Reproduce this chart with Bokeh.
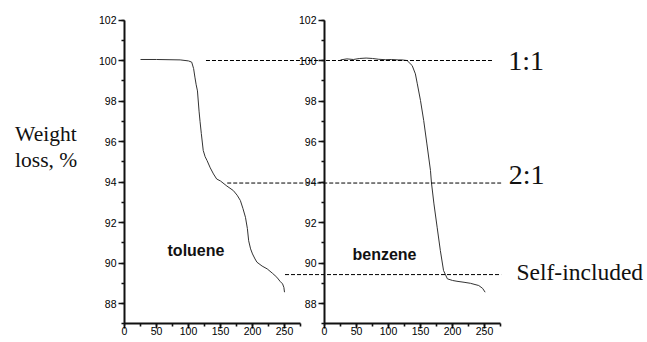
from bokeh.plotting import figure
from bokeh.models import (Range1d, LinearAxis, SingleIntervalTicker, Label,
                          ColumnDataSource)
from bokeh.embed import file_html
from bokeh.resources import INLINE

# ---------------- data ----------------
toluene_temp = [25, 50, 87, 100, 105, 108, 110, 112, 114, 116.5, 118, 120, 123,
                126, 129, 134, 139, 144, 150, 160, 170, 176, 181, 185, 189, 192,
                194, 197, 200, 204, 207, 215, 223, 231, 238, 243, 247, 249, 250]
toluene_weight = [100.05, 100.05, 100.03, 99.98, 99.92, 99.6, 99.18, 98.8, 98.5,
                  97.5, 97.0, 96.4, 95.56, 95.25, 95.06, 94.7, 94.4, 94.15, 94.05,
                  93.8, 93.58, 93.35, 93.09, 92.7, 92.26, 91.7, 91.1, 90.7, 90.45,
                  90.2, 90.04, 89.85, 89.71, 89.5, 89.3, 89.1, 88.97, 88.8, 88.56]

benzene_temp = [25, 35, 45, 55, 65, 75, 85, 95, 105, 115, 121, 129, 137, 142, 145,
                150, 155, 160, 165.6, 167, 171, 176, 181, 186, 192, 200, 207, 218,
                228, 241, 247, 251]
benzene_weight = [100.03, 100.08, 100.05, 100.1, 100.12, 100.1, 100.06, 100.04,
                  100.05, 100.03, 100.03, 100.0, 99.75, 99.34, 98.85, 98.02, 97.04,
                  95.88, 94.57, 94.0, 92.92, 91.77, 90.62, 89.63, 89.22, 89.14,
                  89.1, 89.05, 89.0, 88.89, 88.75, 88.56]

level_names = ["1:1", "2:1", "Self-included"]
level_values = [100.0, 93.95, 89.43]
level_start_toluene = [127.3, 160.5, 250.8]   # dashed line starts (toluene axis)
level_end_benzene = [262, 276, 276]           # dashed line ends (benzene axis)

y_ticks_interval = 2
x_ticks_interval = 50
y_min, y_max = 87, 102
x_axis_max = 275

# ---------------- layout ----------------
W, H = 647, 342
TOL_AXIS_PX = 124      # pixel column of the toluene y axis
BENZ_AXIS_PX = 324     # pixel column of the benzene y axis
X_AXIS_PY = 323.3      # pixel row of the x axes (y = 87)
TOP_PY = 19.5          # pixel row of y = 102
KX = 0.64
KY = (X_AXIS_PY - TOP_PY) / (y_max - y_min)

tol_range = Range1d(-TOL_AXIS_PX / KX, (W - TOL_AXIS_PX) / KX)
benz_range = Range1d(-BENZ_AXIS_PX / KX, (W - BENZ_AXIS_PX) / KX)
y_range = Range1d(y_min - (H - X_AXIS_PY) / KY, y_max + TOP_PY / KY)

p = figure(width=W, height=H, output_backend="svg", toolbar_location=None,
           x_range=tol_range, y_range=y_range,
           x_axis_location=None, y_axis_location=None,
           min_border_left=0, min_border_right=0,
           min_border_top=0, min_border_bottom=0)
p.extra_x_ranges = {"benz": benz_range}
p.outline_line_color = None
p.xgrid.visible = False
p.ygrid.visible = False
p.background_fill_color = "white"
p.border_fill_color = "white"


def style_axis(ax, is_y):
    ax.axis_line_width = 2
    ax.axis_line_color = "#111"
    ax.major_tick_line_width = 1.6
    ax.minor_tick_line_width = 1.6
    ax.major_tick_line_color = "#111"
    ax.minor_tick_line_color = "#111"
    ax.major_tick_in = 0
    ax.minor_tick_in = 0
    ax.major_label_text_font = "Liberation Sans"
    ax.major_label_text_font_size = "10.5px"
    ax.major_label_text_color = "#000"
    if is_y:
        ax.major_tick_out = 6
        ax.minor_tick_out = 3
        ax.major_label_standoff = 2
    else:
        ax.major_tick_out = 5
        ax.minor_tick_out = 3
        ax.major_label_standoff = -2


for rng in ("default", "benz"):
    yax = LinearAxis(x_range_name=rng, fixed_location=0, bounds=(y_min, y_max),
                     ticker=SingleIntervalTicker(interval=y_ticks_interval, num_minor_ticks=2))
    style_axis(yax, True)
    p.add_layout(yax, "left")
    xax = LinearAxis(x_range_name=rng, fixed_location=y_min, bounds=(0, x_axis_max),
                     ticker=SingleIntervalTicker(interval=x_ticks_interval, num_minor_ticks=2))
    style_axis(xax, False)
    p.add_layout(xax, "below")

# curves
p.line(toluene_temp, toluene_weight, line_color="#333", line_width=1)
p.line(benzene_temp, benzene_weight, line_color="#333", line_width=1,
       x_range_name="benz")

# dashed reference lines (toluene-axis starts converted to the benzene axis)
shift = benz_range.start - tol_range.start
seg = ColumnDataSource(dict(
    x0=[s + shift for s in level_start_toluene],
    x1=level_end_benzene,
    y=level_values))
p.segment(x0="x0", y0="y", x1="x1", y1="y", source=seg, x_range_name="benz",
          line_color="black", line_width=1, line_dash="4 2")

# texts
serif = "Liberation Serif"
p.add_layout(Label(x=-171, y=96.37, text="Weight", text_font=serif,
                   text_font_size="21.5px", text_baseline="alphabetic",
                   text_color="#111"))
p.add_layout(Label(x=-171, y=95.08, text="loss, %", text_font=serif,
                   text_font_size="21.5px", text_baseline="alphabetic",
                   text_color="#111"))

p.add_layout(Label(x=111.7, y=90.62, text="toluene", text_font="Liberation Sans",
                   text_font_style="bold", text_font_size="16px",
                   text_align="center", text_baseline="middle", text_color="#111"))
p.add_layout(Label(x=93.75, y=90.42, text="benzene", text_font="Liberation Sans",
                   text_font_style="bold", text_font_size="16px",
                   text_align="center", text_baseline="middle", text_color="#111",
                   x_range_name="benz"))

label_x = [287, 288, 300]
label_y = [99.98, 94.35, 89.57]
label_sizes = ["28px", "28px", "23.5px"]
for name, lx, ly, fs in zip(level_names, label_x, label_y, label_sizes):
    p.add_layout(Label(x=lx, y=ly, text=name, text_font=serif, text_font_size=fs,
                       text_baseline="alphabetic", text_color="#111",
                       x_range_name="benz"))

open("out.html", "w").write(file_html(p, INLINE))
